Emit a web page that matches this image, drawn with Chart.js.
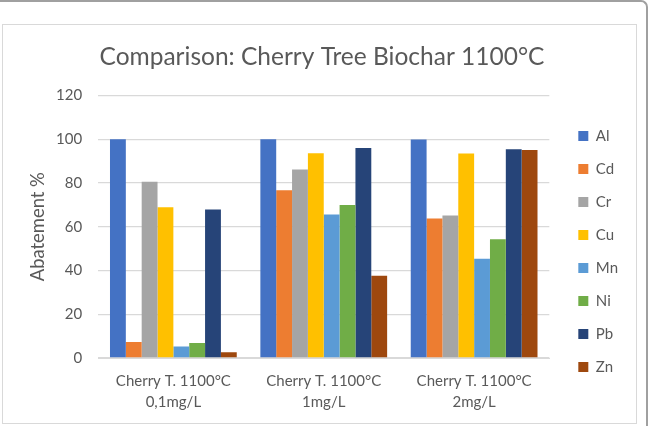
<!DOCTYPE html>
<html>
<head>
<meta charset="utf-8">
<script src="https://cdn.jsdelivr.net/npm/chart.js@4"></script>
<style>
  body { margin: 0; background: #fff; }
  #frame {
    position: absolute; left: -4px; top: 0; width: 652px; height: 440px;
    border-top: 2px solid #a0a0a0; border-right: 2px solid #a0a0a0;
    border-top-right-radius: 7px; box-sizing: border-box;
  }
  #box {
    position: absolute; left: 2px; top: 24px; width: 635px; height: 400px;
    border: 1px solid #d9d9d9; box-sizing: border-box;
  }
  #wrap { position: absolute; left: 3px; top: 25px; width: 633px; height: 398px; }
</style>
</head>
<body>
<div id="frame"></div>
<div id="box"></div>
<div id="wrap"><canvas id="chart"></canvas></div>
<script>
const categories = [
    ['Cherry T. 1100°C', '0,1mg/L'],
    ['Cherry T. 1100°C', '1mg/L'],
    ['Cherry T. 1100°C', '2mg/L']
];
const metals = ['Al', 'Cd', 'Cr', 'Cu', 'Mn', 'Ni', 'Pb', 'Zn'];
const al = [100, 100, 99.8];
const cd = [7.3, 76.7, 63.8];
const cr = [80.5, 86.1, 65.1];
const cu = [68.9, 93.6, 93.4];
const mn = [5.2, 65.6, 45.4];
const ni = [6.9, 69.9, 54.3];
const pb = [67.9, 96.0, 95.4];
const zn = [2.6, 37.6, 95.0];
const yTicks = [0, 20, 40, 60, 80, 100, 120];

const seriesValues = [al, cd, cr, cu, mn, ni, pb, zn];
const colors = ['#4472C4', '#ED7D31', '#A5A5A5', '#FFC000', '#5B9BD5', '#70AD47', '#264478', '#9E480E'];
const textColor = '#595959';
const font = 'Lato';

// nudge the legend to the right without widening it
const legendShift = {
    id: 'legendShift',
    afterLayout(chart) {
        chart.legend.left += 11;
        chart.legend.right += 11;
    }
};

const ctx = document.getElementById('chart').getContext('2d');
new Chart(ctx, {
    type: 'bar',
    data: {
        labels: categories,
        datasets: metals.map((m, i) => ({
            label: m,
            data: seriesValues[i],
            backgroundColor: colors[i],
            borderWidth: 0,
            categoryPercentage: 0.843,
            barPercentage: 1
        }))
    },
    options: {
        responsive: true,
        maintainAspectRatio: false,
        animation: false,
        layout: { padding: { left: 24, right: 19, top: 0, bottom: 5 } },
        plugins: {
            title: {
                display: true,
                text: 'Comparison: Cherry Tree Biochar 1100°C',
                color: textColor,
                font: { family: font, size: 24.5, weight: 'normal' },
                padding: { top: 17, bottom: 24 }
            },
            legend: {
                position: 'right',
                title: { display: true, text: ' ', font: { size: 10 }, padding: { top: 20, bottom: 28 } },
                labels: {
                    boxWidth: 10,
                    boxHeight: 10,
                    padding: 18,
                    color: textColor,
                    font: { family: font, size: 15 }
                }
            },
            tooltip: { enabled: false }
        },
        scales: {
            x: {
                grid: { display: false },
                border: { color: '#d9d9d9' },
                ticks: { color: textColor, font: { family: font, size: 15, lineHeight: 1.4 }, maxRotation: 0, padding: 5 }
            },
            y: {
                min: 0,
                max: 120,
                afterBuildTicks: axis => { axis.ticks = yTicks.map(v => ({ value: v })); },
                grid: { color: '#d9d9d9', lineWidth: 1.3, drawTicks: false },
                border: { display: false },
                ticks: { color: textColor, font: { family: font, size: 15 }, padding: 16 },
                title: {
                    display: true,
                    text: 'Abatement %',
                    color: textColor,
                    font: { family: font, size: 18.4 },
                    padding: { top: 0, bottom: -9 }
                }
            }
        }
    },
    plugins: [legendShift]
});
</script>
</body>
</html>
